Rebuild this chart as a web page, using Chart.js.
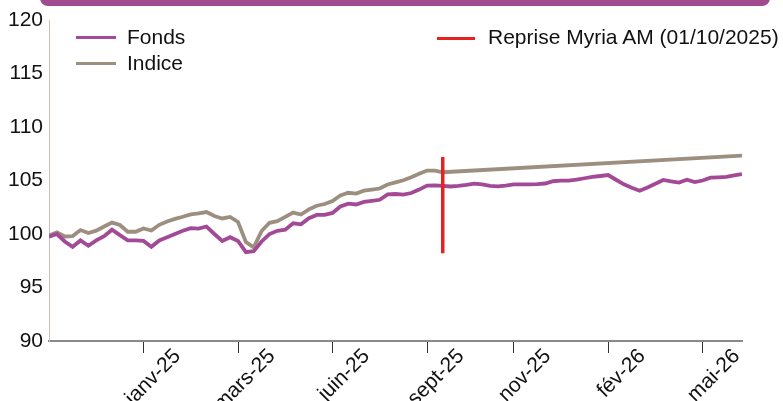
<!DOCTYPE html>
<html><head><meta charset="utf-8">
<script src="https://cdn.jsdelivr.net/npm/chart.js@4.4.1/dist/chart.umd.min.js"></script>
<style>
html,body{margin:0;padding:0;background:#fff;overflow:hidden;}
#wrap{position:relative;width:783px;height:401px;overflow:hidden;}
#banner{position:absolute;left:40px;top:-10px;width:730px;height:16px;background:#a24a8f;border-radius:8px;}
canvas{position:absolute;left:0;top:0;}
.leg{position:absolute;font-family:"Liberation Sans",Arial,sans-serif;font-size:21px;color:#111;line-height:21px;white-space:nowrap;}
.sw{position:absolute;height:3px;}
</style></head>
<body><div id="wrap"><canvas id="c" width="783" height="401"></canvas><div id="banner"></div><div id="legend"></div></div>
<script>
// ---- data (weekly points, index 0 = first week shown) ----
const tickLabels = ['janv-25','mars-25','juin-25','sept-25','nov-25','fév-26','mai-26'];
const tickIndex  = [12, 24, 36, 48, 59, 71, 83];
const fonds = [99.75,100.0,99.3,98.8,99.4,98.9,99.4,99.8,100.4,99.9,
  99.4,99.4,99.35,98.8,99.4,99.7,100.0,100.3,100.55,100.5,
  100.7,100.0,99.35,99.7,99.35,98.3,98.4,99.3,100.0,100.3,
  100.4,101.0,100.9,101.47,101.78,101.78,101.97,102.57,102.84,102.76,
  103.0,103.1,103.2,103.7,103.74,103.68,103.83,104.15,104.53,104.54,
  104.49,104.44,104.49,104.58,104.71,104.63,104.49,104.46,104.53,104.64,
  104.63,104.64,104.67,104.72,104.93,104.98,104.98,105.08,105.21,105.33,
  105.42,105.51,105.07,104.64,104.33,104.04,104.35,104.7,105.05,104.92,
  104.81,105.07,104.86,105.0,105.26,105.3,105.33,105.47,105.6];
const indiceHist = [99.86,100.16,99.77,99.81,100.37,100.09,100.31,100.7,101.06,100.84,
  100.21,100.21,100.52,100.33,100.86,101.17,101.41,101.61,101.84,101.93,
  102.05,101.68,101.45,101.59,101.12,99.25,98.75,100.28,101.05,101.2,
  101.6,102.0,101.82,102.3,102.64,102.8,103.08,103.6,103.85,103.78,
  104.05,104.15,104.25,104.63,104.83,105.02,105.31,105.62,105.93,105.92,105.77];
const indiceEnd = 107.32;           // value at the last week (straight projection)
const repriseIndex = 50;            // 01/10/2025
const repriseRange = [98.2, 107.2]; // vertical marker extent
const seriesNames = ['Fonds', 'Indice', 'Reprise Myria AM (01/10/2025)'];
const lastIndex = fonds.length - 1;

const C_FONDS = '#a24a96', C_INDICE = '#9d8f80', C_RED = '#e2231f';

const fondsData = fonds.map((v, i) => ({x: i, y: v}));
const indiceData = indiceHist.map((v, i) => ({x: i, y: v}));
indiceData.push({x: lastIndex, y: indiceEnd});
const redData = repriseRange.map(v => ({x: repriseIndex, y: v}));

const FONT = {family: '"Liberation Sans", Arial, sans-serif', size: 21};

const chart = new Chart(document.getElementById('c'), {
  type: 'line',
  data: {
    datasets: [
      {label: seriesNames[0], data: fondsData, borderColor: C_FONDS, borderWidth: 3.8, pointRadius: 0, tension: 0, order: 2},
      {label: seriesNames[1], data: indiceData, borderColor: C_INDICE, borderWidth: 3.8, pointRadius: 0, tension: 0, order: 3},
      {label: seriesNames[2], data: redData, borderColor: C_RED, borderWidth: 3.5, pointRadius: 0, order: 1}
    ]
  },
  options: {
    responsive: false,
    animation: false,
    devicePixelRatio: 1,
    layout: {padding: {top: 20, right: 41, left: 0, bottom: 0}},
    plugins: {legend: {display: false}, tooltip: {enabled: false}},
    scales: {
      x: {
        type: 'linear', min: 0, max: lastIndex,
        afterBuildTicks: s => { s.ticks = tickIndex.map(v => ({value: v})); },
        afterFit: s => { s.height = 60; },
        grid: {display: true, drawOnChartArea: false, drawTicks: true, tickLength: 12, color: '#333', lineWidth: 1},
        border: {display: true, color: '#8a8a8a', width: 2},
        ticks: {
          autoSkip: false, maxRotation: 45, minRotation: 45, padding: -9, labelOffset: 34,
          color: '#111', font: FONT,
          callback: v => { const k = tickIndex.indexOf(v); return k >= 0 ? tickLabels[k] : ''; }
        }
      },
      y: {
        min: 90, max: 120,
        afterFit: s => { s.width = 49; },
        grid: {display: false, drawTicks: false},
        border: {display: true, color: '#c9bfb3', width: 1},
        ticks: {stepSize: 5, padding: 6, color: '#111', font: FONT}
      }
    }
  }
});

// HTML legend built from the chart's datasets
const legPos = [
  {sx: 76, sy: 36, tx: 127, ty: 26},
  {sx: 76, sy: 62, tx: 127, ty: 52},
  {sx: 437, sy: 37, tx: 488, ty: 26}
];
const leg = document.getElementById('legend');
chart.data.datasets.forEach((ds, i) => {
  const p = legPos[i];
  const sw = document.createElement('div');
  sw.className = 'sw';
  sw.style.cssText = `left:${p.sx}px;top:${p.sy}px;width:${i === 2 ? 38 : 40}px;background:${ds.borderColor}`;
  const t = document.createElement('div');
  t.className = 'leg';
  t.style.left = p.tx + 'px'; t.style.top = p.ty + 'px';
  t.textContent = ds.label;
  leg.appendChild(sw); leg.appendChild(t);
});
</script>
</body></html>
